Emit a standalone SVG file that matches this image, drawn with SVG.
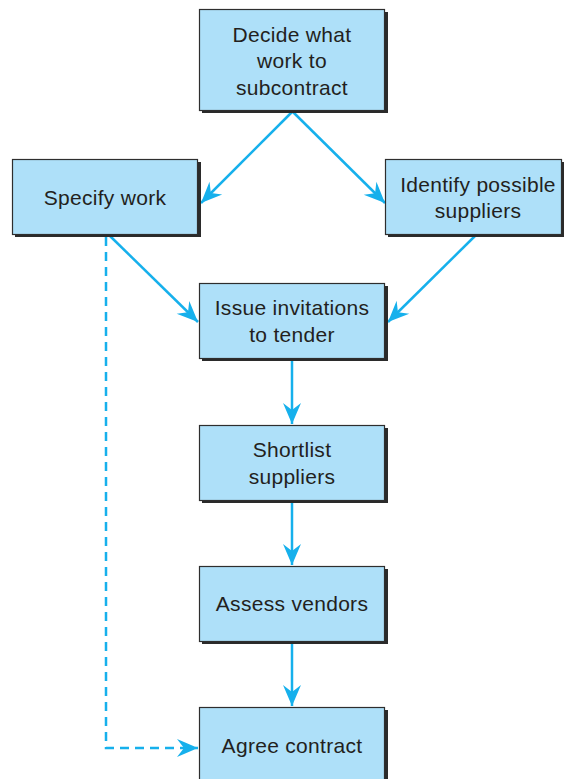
<svg xmlns="http://www.w3.org/2000/svg" width="564" height="779" viewBox="0 0 564 779">
<style>
.box{fill:#aee0f9;stroke:#2e2e2e;stroke-width:1.2}
.sh{fill:#2b2b2b}
.t{font-family:"Liberation Sans",Arial,sans-serif;font-size:21px;letter-spacing:0.3px;fill:#231f20;text-anchor:middle}
.c{stroke:#16b0ec;stroke-width:2.5;fill:none}
.d{stroke-dasharray:9 6}
</style>
<defs>
<marker id="ah" markerUnits="userSpaceOnUse" markerWidth="26" markerHeight="22" viewBox="-22 -11 24 22" refX="0" refY="0" orient="auto">
<path d="M0,0 L-21,-9 L-14,0 L-21,9 Z" fill="#16b0ec"/>
</marker>
</defs>
<rect width="564" height="779" fill="#fff"/>
<g id="connectors">
<line class="c" x1="292" y1="112" x2="201" y2="203" marker-end="url(#ah)"/>
<line class="c" x1="293" y1="112" x2="385" y2="203" marker-end="url(#ah)"/>
<line class="c" x1="110" y1="236" x2="198" y2="322" marker-end="url(#ah)"/>
<line class="c" x1="475" y1="236" x2="388" y2="322" marker-end="url(#ah)"/>
<line class="c" x1="292" y1="360" x2="292" y2="424" marker-end="url(#ah)"/>
<line class="c" x1="292" y1="502" x2="292" y2="565" marker-end="url(#ah)"/>
<line class="c" x1="292" y1="643" x2="292" y2="706" marker-end="url(#ah)"/>
<polyline class="c d" points="106,237 106,748 198,748" marker-end="url(#ah)"/>
</g>
<g id="n1">
<rect class="sh" x="202" y="12" width="186" height="101"/>
<rect class="box" x="199.5" y="9.5" width="185" height="101"/>
<text class="t" x="292" y="42">Decide what</text>
<text class="t" x="292" y="68">work to</text>
<text class="t" x="292" y="95">subcontract</text>
</g>
<g id="n2">
<rect class="sh" x="15" y="162" width="186" height="75"/>
<rect class="box" x="12.5" y="159.5" width="185" height="75"/>
<text class="t" x="105" y="205">Specify work</text>
</g>
<g id="n3">
<rect class="sh" x="388" y="162" width="176" height="75"/>
<rect class="box" x="385.5" y="159.5" width="176" height="75"/>
<text class="t" x="478" y="192">Identify possible</text>
<text class="t" x="478" y="218">suppliers</text>
</g>
<g id="n4">
<rect class="sh" x="202" y="286" width="186" height="75"/>
<rect class="box" x="199.5" y="283.5" width="185" height="75"/>
<text class="t" x="292" y="315">Issue invitations</text>
<text class="t" x="292" y="342">to tender</text>
</g>
<g id="n5">
<rect class="sh" x="202" y="428" width="186" height="75"/>
<rect class="box" x="199.5" y="425.5" width="185" height="75"/>
<text class="t" x="292" y="457">Shortlist</text>
<text class="t" x="292" y="484">suppliers</text>
</g>
<g id="n6">
<rect class="sh" x="202" y="569" width="186" height="75"/>
<rect class="box" x="199.5" y="566.5" width="185" height="75"/>
<text class="t" x="292" y="611">Assess vendors</text>
</g>
<g id="n7">
<rect class="sh" x="202" y="710" width="186" height="80"/>
<rect class="box" x="199.5" y="707.5" width="185" height="80"/>
<text class="t" x="292" y="753">Agree contract</text>
</g>
</svg>
